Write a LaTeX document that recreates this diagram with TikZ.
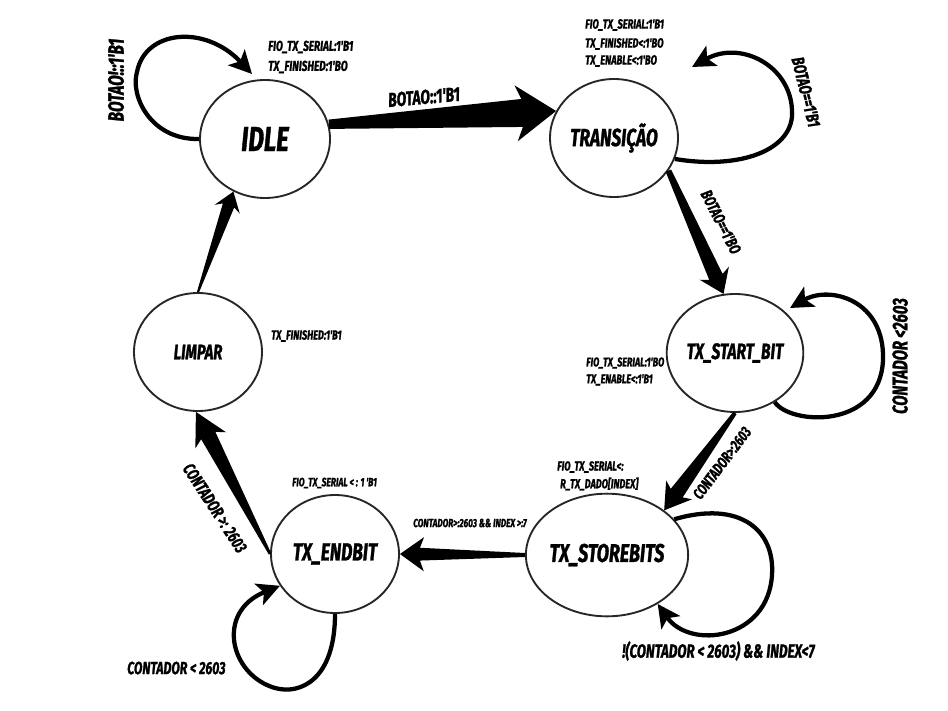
\documentclass[tikz,border=0pt]{standalone}
\usepackage{fontspec}
\newfontfamily\hand{Fira Sans}[FakeStretch=0.7, BoldItalicFeatures={FakeBold=1.2}]
\usetikzlibrary{shapes.geometric,arrows.meta,calc}
\newcommand\taperarrow[7]{%
  \path ($(#2)!#5!(#1)$) coordinate (tmpB) ($(#2)!#5-#7!(#1)$) coordinate (tmpN);
  \fill ($(#1)!#3!90:(#2)$) -- ($(tmpN)!#4!-90:(#1)$) -- ($(tmpB)!#6!-90:(#1)$) -- (#2)
     -- ($(tmpB)!#6!90:(#1)$) -- ($(tmpN)!#4!90:(#1)$) -- ($(#1)!#3!-90:(#2)$) -- cycle;}
\newcommand\hfs[1]{\hand\bfseries\itshape\fontsize{#1}{#1}\selectfont}
\tikzset{
  state/.style={draw=black!85, line width=1.4pt, ellipse, inner sep=0pt,
     minimum width=96pt, minimum height=88.5pt},
  lbl/.style={inner sep=0pt, font=\hfs{10}, align=left},
  loopline/.style={line width=3.2pt, -{Stealth[length=17pt,width=17pt,inset=4pt]}}
}
\begin{document}
\begin{tikzpicture}[x=0.75pt,y=-0.75pt]
\useasboundingbox (0,0) rectangle (948,710);
\fill[white] (0,0) rectangle (948,710);
% states
\node[state, minimum width=97.5pt, font=\hfs{26}] (idle) at (265,139) {IDLE};
\node[state, font=\hfs{18.6}] (trans) at (614,138) {TRANSIÇÃO};
\node[state, font=\hfs{16.7}] (start) at (735,353) {TX\_START\_BIT};
\node[state, font=\hfs{15.8}] (limpar) at (198,352) {LIMPAR};
\node[state, minimum height=92pt, font=\hfs{19.2}] (store) at (607,555) {TX\_STOREBITS};
\node[state, font=\hfs{18.6}] (endb) at (335,554) {TX\_ENDBIT};
% tapered transitions
\taperarrow{idle.13}{trans.155}{3.5pt}{10.5pt}{30pt}{21pt}{4.5pt}
\taperarrow{trans.-31}{start.101}{2.2pt}{5.5pt}{17pt}{12pt}{3pt}
\taperarrow{start.-90}{store.38}{1.5pt}{5.5pt}{19pt}{12pt}{3pt}
\taperarrow{store.180}{endb.0}{1.5pt}{4.8pt}{18pt}{12.8pt}{3pt}
\taperarrow{endb.180}{limpar.-92}{1pt}{6pt}{24pt}{13pt}{4pt}
\taperarrow{limpar.90}{idle.-121}{0.8pt}{4.5pt}{14pt}{10pt}{3pt}
% self loops
\coordinate (idletip) at (252,74);
\coordinate (transtip) at (692,67);
\coordinate (starttip) at (790,308);
\draw[loopline] (idle.180) .. controls (150,140) and (130,95) .. (137,72)
   .. controls (145,30) and (205,24) .. (idletip);
\draw[loopline] (trans.-19) .. controls (740,170) and (795,150) .. (792,110)
   .. controls (790,65) and (740,40) .. (transtip);
\draw[loopline] (start.-51) .. controls (790,425) and (880,430) .. (883,360)
   .. controls (885,300) and (830,285) .. (starttip);
\draw[loopline] (store.28) .. controls (740,500) and (775,530) .. (772,575)
   .. controls (768,640) and (690,650) .. (store.-44);
\draw[loopline] (endb.-90) .. controls (335,680) and (300,695) .. (275,688)
   .. controls (230,675) and (215,612) .. (endb.-150);
% labels
\node[lbl, rotate=90, font=\hfs{16.5}] (l1) at (116,80) {BOTAO!::1'B1};
\node[lbl, anchor=west, font=\hfs{10.8}] (l2) at (268,47) {FIO\_TX\_SERIAL:1'B1};
\node[lbl, anchor=west, font=\hfs{10.8}] (l3) at (268,67) {TX\_FINISHED:1'BO};
\node[lbl, rotate=5, font=\hfs{15}] (l4) at (424,97) {BOTAO::1'B1};
\node[lbl, anchor=west] (l5) at (585,25) {FIO\_TX\_SERIAL:1'B1};
\node[lbl, anchor=west] (l6) at (585,44) {TX\_FINISHED<:1'BO};
\node[lbl, anchor=west] (l7) at (585,61) {TX\_ENABLE<:1'BO};
\node[lbl, rotate=-76, font=\hfs{13.4}] (l8) at (806,92) {BOTAO==1'B1};
\node[lbl, rotate=-63, font=\hfs{12.4}] (l9) at (721,222) {BOTAO==1'BO};
\node[lbl, rotate=90, font=\hfs{16}] (l10) at (900,356) {CONTADOR <2603};
\node[lbl, anchor=west, font=\hfs{9.6}] (l11) at (586,363) {FIO\_TX\_SERIAL:1'BO};
\node[lbl, anchor=west, font=\hfs{9.6}] (l12) at (586,380) {TX\_ENABLE<:1'B1};
\node[lbl, anchor=west, font=\hfs{9.9}] (l13) at (271,336) {TX\_FINISHED:1'B1};
\node[lbl, rotate=53, font=\hfs{11.8}] (l14) at (722,463) {CONTADOR>:2603};
\node[lbl, anchor=west, font=\hfs{9.8}] (l15) at (557,467) {FIO\_TX\_SERIAL<:};
\node[lbl, anchor=west, font=\hfs{9.8}] (l16) at (560,484) {R\_TX\_DADO[INDEX]};
\node[lbl, anchor=west, font=\hfs{8.8}] (l17) at (413,523) {CONTADOR>:2603 \&\& INDEX >:7};
\node[lbl, anchor=west, font=\hfs{14.3}] (l18) at (622,651) {!(CONTADOR < 2603) \&\& INDEX<7};
\node[lbl, rotate=-57, font=\hfs{13.2}] (l19) at (215,508) {CONTADOR >: 2603};
\node[lbl, anchor=west, font=\hfs{9.1}] (l20) at (292,483) {FIO\_TX\_SERIAL < : 1 'B1};
\node[lbl, anchor=west, font=\hfs{13.2}] (l21) at (127,668) {CONTADOR < 2603};
\end{tikzpicture}
\end{document}
